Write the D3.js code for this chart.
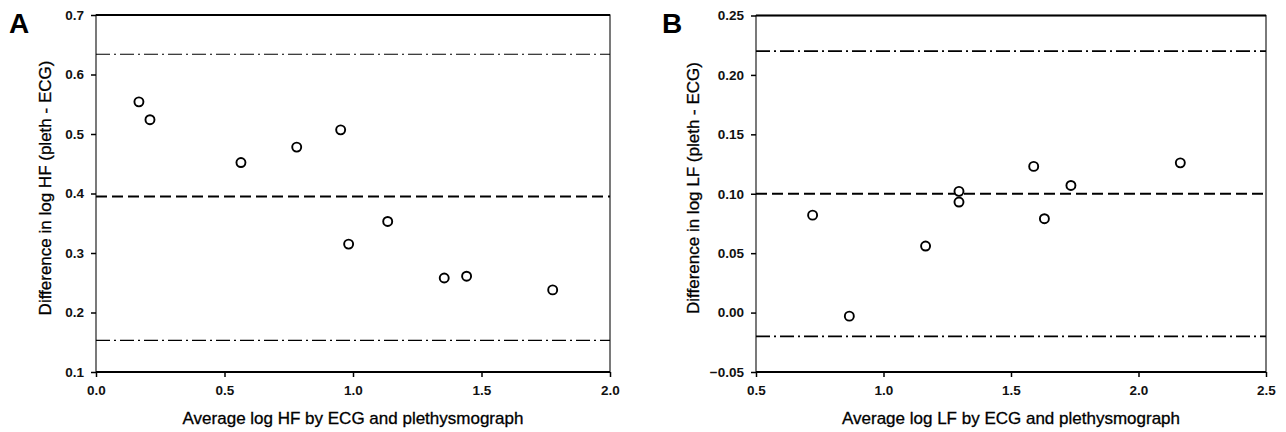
<!DOCTYPE html>
<html>
<head>
<meta charset="utf-8">
<script src="https://cdn.jsdelivr.net/npm/d3@7/dist/d3.min.js"></script>
<style>
  body { margin: 0; background: #fff; }
  svg text { font-family: "Liberation Sans", Arial, sans-serif; fill: #111; }
</style>
</head>
<body>
<div id="chart"></div>
<script>
// panel A: high frequency
const hfAvg  = [0.167, 0.21, 0.564, 0.781, 0.952, 0.983, 1.135, 1.355, 1.442, 1.777];
const hfDiff = [0.554, 0.524, 0.452, 0.478, 0.507, 0.315, 0.353, 0.258, 0.261, 0.238];
const hfMean = 0.395, hfUpper = 0.634, hfLower = 0.153;
const hfXTicks = [0, 0.5, 1.0, 1.5, 2.0];
const hfYTicks = [0.1, 0.2, 0.3, 0.4, 0.5, 0.6, 0.7];

// panel B: low frequency
const lfAvg  = [0.722, 0.866, 1.165, 1.296, 1.296, 1.589, 1.631, 1.735, 2.164];
const lfDiff = [0.082, -0.003, 0.056, 0.102, 0.093, 0.123, 0.079, 0.107, 0.126];
const lfMean = 0.100, lfUpper = 0.220, lfLower = -0.020;
const lfXTicks = [0.5, 1.0, 1.5, 2.0, 2.5];
const lfYTicks = [-0.05, 0, 0.05, 0.10, 0.15, 0.20, 0.25];

const svg = d3.select("#chart").append("svg")
    .attr("width", 1286)
    .attr("height", 432);

function drawPanel(opt) {
    let g = svg.append("g");
    let x = d3.scaleLinear().domain(opt.xDomain).range([opt.left, opt.right]);
    let y = d3.scaleLinear().domain(opt.yDomain).range([opt.bottom, opt.top]);

    // frame
    g.append("rect")
        .attr("x", opt.left).attr("y", opt.top)
        .attr("width", opt.right - opt.left).attr("height", opt.bottom - opt.top)
        .style("fill", "none").style("stroke", "#222").style("stroke-width", 1.2);
    g.append("line")
        .attr("x1", opt.left).attr("x2", opt.right).attr("y1", opt.top).attr("y2", opt.top)
        .style("stroke", "#000").style("stroke-width", 2);
    g.append("line")
        .attr("x1", opt.left).attr("x2", opt.right).attr("y1", opt.bottom).attr("y2", opt.bottom)
        .style("stroke", "#000").style("stroke-width", 2);

    // axes
    let xAxis = d3.axisBottom(x).tickValues(opt.xTicks).tickFormat(d3.format(".1f"))
        .tickSize(5).tickPadding(8).tickSizeOuter(0);
    let yAxis = d3.axisLeft(y).tickValues(opt.yTicks).tickFormat(d3.format(opt.yFmt))
        .tickSize(5).tickPadding(7).tickSizeOuter(0);
    let gx = g.append("g").attr("transform", "translate(0," + opt.bottom + ")").call(xAxis);
    let gy = g.append("g").attr("transform", "translate(" + opt.left + ",0)").call(yAxis);
    [gx, gy].forEach(a => {
        a.select(".domain").remove();
        a.selectAll("line").style("stroke", "#000").style("stroke-width", 1.5);
        a.selectAll("text")
            .style("font-size", "13.5px")
            .style("font-weight", "bold")
            .style("fill", "#111");
    });

    // limits of agreement and mean
    g.append("line")
        .attr("x1", opt.left).attr("x2", opt.right)
        .attr("y1", y(opt.upper)).attr("y2", y(opt.upper))
        .style("stroke", "#000").style("stroke-width", opt.limitWidth)
        .style("stroke-dasharray", "14,4,2,4");
    g.append("line")
        .attr("x1", opt.left).attr("x2", opt.right)
        .attr("y1", y(opt.lower)).attr("y2", y(opt.lower))
        .style("stroke", "#000").style("stroke-width", opt.limitWidth)
        .style("stroke-dasharray", "14,4,2,4");
    g.append("line")
        .attr("x1", opt.left).attr("x2", opt.right)
        .attr("y1", y(opt.mean)).attr("y2", y(opt.mean))
        .style("stroke", "#000").style("stroke-width", 2)
        .style("stroke-dasharray", "11,5");

    // points
    g.selectAll("circle.pt").data(opt.xs).enter()
        .append("circle")
        .attr("class", "pt")
        .attr("cx", d => x(d))
        .attr("cy", (d, i) => y(opt.ys[i]))
        .attr("r", 4.5)
        .style("fill", "#fff")
        .style("stroke", "#000")
        .style("stroke-width", 1.9);

    // titles (thin stroke to match the heavy print)
    g.append("text")
        .attr("x", (opt.left + opt.right) / 2)
        .attr("y", 424)
        .attr("text-anchor", "middle")
        .style("font-size", "17px")
        .style("fill", "#000")
        .style("stroke", "#000").style("stroke-width", 0.3)
        .text(opt.xTitle);
    g.append("text")
        .attr("transform", "translate(" + opt.yTitleX + ",188) rotate(-90)")
        .attr("text-anchor", "middle")
        .style("font-size", "17px")
        .style("fill", "#000")
        .style("stroke", "#000").style("stroke-width", 0.3)
        .text(opt.yTitle);
    g.append("text")
        .attr("x", opt.letterX)
        .attr("y", 33)
        .style("font-size", "28px")
        .style("font-weight", "bold")
        .style("fill", "#000")
        .text(opt.letter);
}

drawPanel({
    letter: "A", letterX: 9,
    left: 96, right: 610, top: 15, bottom: 372,
    xDomain: [0, 2], yDomain: [0.1, 0.7],
    xTicks: hfXTicks, yTicks: hfYTicks, yFmt: ".1f",
    xs: hfAvg, ys: hfDiff,
    mean: hfMean, upper: hfUpper, lower: hfLower, limitWidth: 1.2,
    xTitle: "Average log HF by ECG and plethysmograph",
    yTitle: "Difference in log HF (pleth - ECG)", yTitleX: 51
});

drawPanel({
    letter: "B", letterX: 662,
    left: 756, right: 1266, top: 15.5, bottom: 372,
    xDomain: [0.5, 2.5], yDomain: [-0.05, 0.25],
    xTicks: lfXTicks, yTicks: lfYTicks, yFmt: ".2f",
    xs: lfAvg, ys: lfDiff,
    mean: lfMean, upper: lfUpper, lower: lfLower, limitWidth: 1.6,
    xTitle: "Average log LF by ECG and plethysmograph",
    yTitle: "Difference in log LF (pleth - ECG)", yTitleX: 699
});
</script>
</body>
</html>
